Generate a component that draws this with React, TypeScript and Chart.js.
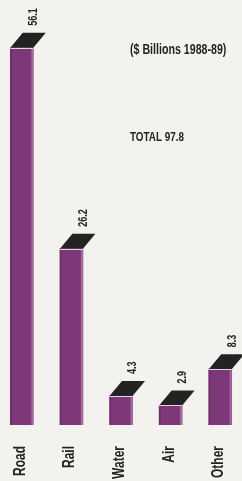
import React, { useEffect, useRef } from "react";
import { Chart, registerables } from "chart.js";

Chart.register(...registerables);

const categories = ["Road", "Rail", "Water", "Air", "Other"];
const values = [56.1, 26.2, 4.3, 2.9, 8.3];
const valueLabels = ["56.1", "26.2", "4.3", "2.9", "8.3"];
const unitNote = "($ Billions 1988-89)";
const totalNote = "TOTAL 97.8";

const FONT = '"Liberation Sans", Arial, sans-serif';
const BG = "#f3f2ee";
const BAR = "#7c3878";
const CAP = "#232323";
const INK = "#232323";

function drawText(
  ctx: CanvasRenderingContext2D,
  text: string,
  x: number,
  y: number,
  opts: { size: number; bold?: boolean; stretch: number; rotate?: boolean; align: CanvasTextAlign }
) {
  ctx.save();
  ctx.translate(x, y);
  if (opts.rotate) ctx.rotate(-Math.PI / 2);
  ctx.scale(opts.stretch, 1);
  ctx.font = `${opts.bold ? "bold " : ""}${opts.size}px ${FONT}`;
  ctx.fillStyle = INK;
  ctx.textAlign = opts.align;
  ctx.textBaseline = "middle";
  ctx.fillText(text, 0, 0);
  ctx.restore();
}

const decorPlugin = {
  id: "decor",
  beforeDraw(chart: any) {
    const { ctx, width, height } = chart;
    ctx.save();
    ctx.fillStyle = BG;
    ctx.fillRect(0, 0, width, height);
    ctx.restore();
  },
  afterDatasetsDraw(chart: any) {
    const { ctx } = chart;
    const meta = chart.getDatasetMeta(0);
    const xScale = chart.scales.x;
    const dx = 12.5;
    const dy = 15;
    ctx.save();
    meta.data.forEach((bar: any, i: number) => {
      const p = bar.getProps(["x", "y", "width"], true);
      const left = p.x - p.width / 2;
      const right = p.x + p.width / 2;
      const top = p.y;
      const base = bar.base;
      // edge shading
      ctx.fillStyle = "rgba(200,150,195,0.55)";
      ctx.fillRect(right - 2, top, 2, base - top);
      ctx.fillStyle = "rgba(60,20,60,0.25)";
      ctx.fillRect(left, top, 1.5, base - top);
      // cap
      ctx.beginPath();
      ctx.moveTo(left, top);
      ctx.lineTo(right, top);
      ctx.lineTo(right + dx, top - dy);
      ctx.lineTo(left + dx, top - dy);
      ctx.closePath();
      ctx.fillStyle = CAP;
      ctx.fill();
      // light seam
      ctx.strokeStyle = "#e9d3e6";
      ctx.lineWidth = 1;
      ctx.beginPath();
      ctx.moveTo(left, Math.round(top) + 0.5);
      ctx.lineTo(right, Math.round(top) + 0.5);
      ctx.stroke();
      // value label
      drawText(ctx, valueLabels[i], right + 0.5, top - dy - 7, {
        size: 12,
        bold: true,
        stretch: 0.75,
        rotate: true,
        align: "left",
      });
      // category label
      const cx = xScale.getPixelForValue(i);
      drawText(ctx, categories[i], cx - 1.5, chart.chartArea.bottom + 21, {
        size: 16,
        bold: true,
        stretch: 0.75,
        rotate: true,
        align: "right",
      });
    });
    drawText(ctx, unitNote, 133, 50, { size: 14, bold: true, stretch: 0.76, align: "left" });
    drawText(ctx, totalNote, 133, 137, { size: 13, bold: true, stretch: 0.76, align: "left" });
    ctx.restore();
  },
};

export default function App() {
  const ref = useRef<HTMLCanvasElement | null>(null);

  useEffect(() => {
    if (!ref.current) return;
    const chart = new Chart(ref.current, {
      type: "bar",
      data: {
        labels: categories,
        datasets: [
          {
            data: values,
            backgroundColor: BAR,
            borderWidth: 0,
            barThickness: 23,
          },
        ],
      },
      options: {
        animation: false,
        responsive: true,
        maintainAspectRatio: false,
        devicePixelRatio: 1,
        layout: { padding: { left: 0, right: 0, top: 0, bottom: 56 } },
        plugins: {
          legend: { display: false },
          tooltip: { enabled: false },
          title: { display: false },
        },
        scales: {
          x: {
            display: false,
            offset: true,
          },
          y: {
            display: false,
            min: 0,
            max: 63.2,
          },
        },
      },
      plugins: [decorPlugin],
    });
    return () => chart.destroy();
  }, []);

  return (
    <div style={{ position: "fixed", inset: 0, overflow: "hidden", background: BG }}>
      <div style={{ position: "absolute", left: -3, top: 0, width: 248, height: 481 }}>
        <canvas ref={ref} />
      </div>
    </div>
  );
}
